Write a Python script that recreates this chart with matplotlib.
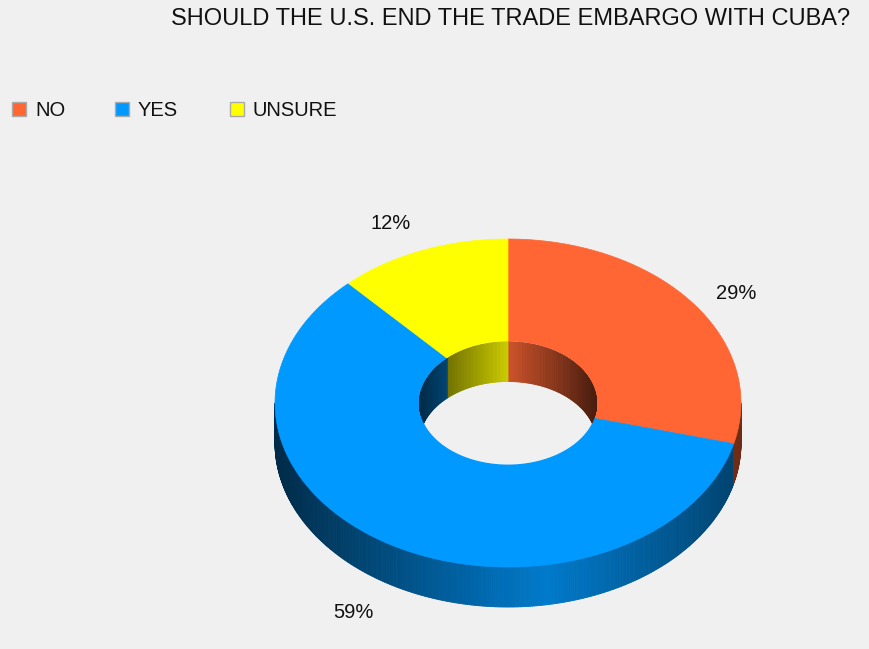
import numpy as np
import matplotlib.pyplot as plt
from matplotlib.collections import PolyCollection
from matplotlib.patches import Polygon, Rectangle
from matplotlib.colors import to_rgb

plt.rcParams['font.family'] = ['Liberation Sans', 'DejaVu Sans']

title = "SHOULD THE U.S. END THE TRADE EMBARGO WITH CUBA?"
categories = ["NO", "YES", "UNSURE"]
values = [29, 59, 12]
colors = ["#ff6633", "#0099ff", "#ffff00"]

BG = "#f0f0f0"
# donut geometry in pixels (y down)
cx, cy = 508, 403
rx, ry = 233, 164
irx, iry = 89, 61.5
depth = 40


def pt(t, a, b, dy=0):
    t = np.radians(t)
    return np.column_stack([cx + a * np.cos(t), cy - b * np.sin(t) + dy])


def shade(x, peak, lo, hi):
    # horizontal gradient on the walls: dark at the rims, bright near peak
    u = np.clip(np.abs(x - peak) / (max(peak - lo, hi - peak)), 0, 1)
    return 0.8 - 0.52 * u


# slice angles: start at 12 o'clock, go clockwise
fracs = np.array(values) / sum(values)
ends = 90 - 360 * np.cumsum(fracs)
starts = np.concatenate([[90], ends[:-1]])


def slice_of(t):
    for i, (s, e) in enumerate(zip(starts, ends)):
        tt = (t - e) % 360
        if tt <= (s - e):
            return i
    return 0


fig = plt.figure(figsize=(8.69, 6.49), dpi=100, facecolor=BG)
ax = fig.add_axes([0, 0, 1, 1])
ax.set_xlim(0, 869)
ax.set_ylim(649, 0)
ax.axis("off")
ax.set_facecolor(BG)

# outer front wall
ts = np.linspace(180, 360, 361)
polys, fcs = [], []
for t0, t1 in zip(ts[:-1], ts[1:]):
    top = pt(np.array([t0, t1]), rx, ry)
    bot = pt(np.array([t1, t0]), rx, ry, depth)
    polys.append(np.vstack([top, bot]))
    xm = (top[0, 0] + top[1, 0]) / 2
    f = shade(xm, 547, cx - rx, cx + rx)
    c = np.array(to_rgb(colors[slice_of((t0 + t1) / 2)])) * f
    fcs.append(c)
ax.add_collection(PolyCollection(polys, facecolors=fcs, edgecolors=fcs, linewidths=0.6))

# top face
for i in range(len(values)):
    tt = np.linspace(starts[i], ends[i], 200)
    ring = np.vstack([pt(tt, rx, ry), pt(tt[::-1], irx, iry)])
    ax.add_patch(Polygon(ring, closed=True, facecolor=colors[i], edgecolor=colors[i], lw=0.5))

# hole
hole = Polygon(pt(np.linspace(0, 360, 361), irx, iry), closed=True, facecolor=BG, edgecolor="none")
ax.add_patch(hole)

# inner back wall seen through the hole
ts = np.linspace(0, 180, 181)
polys, fcs = [], []
for t0, t1 in zip(ts[:-1], ts[1:]):
    top = pt(np.array([t0, t1]), irx, iry)
    bot = pt(np.array([t1, t0]), irx, iry, depth)
    polys.append(np.vstack([top, bot]))
    xm = (top[0, 0] + top[1, 0]) / 2
    f = shade(xm, cx, cx - irx, cx + irx)
    c = np.array(to_rgb(colors[slice_of((t0 + t1) / 2)])) * f
    fcs.append(c)
inner = PolyCollection(polys, facecolors=fcs, edgecolors=fcs, linewidths=0.6)
ax.add_collection(inner)
inner.set_clip_path(hole)

# percentage labels
for i, v in enumerate(values):
    mid = np.radians((starts[i] + ends[i]) / 2)
    s = np.sin(mid)
    x = cx + rx * 1.13 * np.cos(mid)
    y = cy - (ry * 1.35 * s - 26 * np.sign(s))
    if s < 0:
        y += depth + 5
    ha = "left" if np.cos(mid) > 0 else "right"
    ax.text(x, y, f"{v}%", ha=ha, va="center", fontsize=14.5, color="#111111")

# title
ax.text(850, 19, title, ha="right", va="center", fontsize=17, color="#111111")

# legend
lx = [12, 115, 230]
for i, name in enumerate(categories):
    ax.add_patch(Rectangle((lx[i], 102), 14, 14, facecolor=colors[i], edgecolor="#aaaaaa", lw=1))
    ax.text(lx[i] + 23, 110, name, ha="left", va="center", fontsize=14.5, color="#111111")

fig.savefig("out.png", dpi=100, facecolor=BG)
